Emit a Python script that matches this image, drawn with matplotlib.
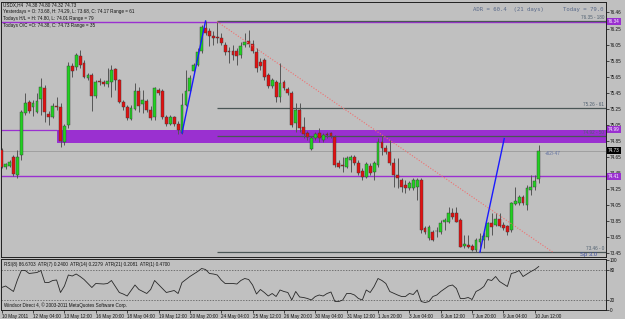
import numpy as np
import matplotlib.pyplot as plt
from matplotlib.transforms import blended_transform_factory

plt.rcParams['font.family'] = ['Liberation Sans', 'DejaVu Sans']

# USDX H4 candles, 10 May 2011 -> 10 Jun 2011
opens = [74.74, 74.53, 74.54, 74.65, 74.42, 74.67, 75.20, 75.34, 75.28, 75.21,
         75.38, 75.51, 75.19, 75.15, 75.29, 75.28, 74.84, 75.05, 75.79, 75.78,
         75.91, 75.83, 75.64, 75.68, 75.41, 75.60, 75.59, 75.56, 75.59, 75.75,
         75.61, 75.34, 75.28, 75.13, 75.25, 75.48, 75.31, 75.35, 75.24, 75.15,
         75.49, 75.48, 75.15, 75.06, 75.15, 75.06, 74.95, 75.30, 75.48, 75.73,
         75.80, 75.98, 76.26, 76.23, 76.16, 76.15, 76.14, 76.05, 75.98, 75.98,
         75.98, 75.92, 76.05, 76.10, 76.06, 75.96, 75.84, 75.86, 75.68, 75.54,
         75.59, 75.40, 75.59, 75.50, 75.45, 75.08, 75.24, 75.03, 74.95, 74.75,
         74.89, 74.95, 74.86, 74.94, 74.95, 74.90, 74.57, 74.55, 74.53, 74.61,
         74.65, 74.57, 74.47, 74.40, 74.54, 74.46, 74.55, 74.84, 74.76, 74.71,
         74.57, 74.42, 74.36, 74.30, 74.26, 74.26, 74.28, 74.36, 73.76, 73.64,
         73.71, 73.72, 73.71, 73.84, 73.84, 73.95, 73.95, 73.86, 73.54, 73.55,
         73.54, 73.49, 73.59, 73.61, 73.65, 73.82, 73.80, 73.87, 73.80, 73.79,
         73.74, 74.06, 74.07, 74.15, 74.05, 74.24, 74.28, 74.38]
highs = [74.76, 74.57, 74.61, 74.67, 74.74, 75.24, 75.45, 75.36, 75.36, 75.45,
         75.64, 75.55, 75.23, 75.33, 75.40, 75.33, 75.06, 75.84, 75.83, 75.95,
         75.99, 75.86, 75.70, 75.70, 75.61, 75.64, 75.61, 75.76, 75.80, 75.76,
         75.62, 75.36, 75.30, 75.30, 75.58, 75.53, 75.49, 75.38, 75.29, 75.53,
         75.51, 75.50, 75.18, 75.18, 75.16, 75.10, 75.45, 75.74, 75.68, 75.83,
         76.01, 76.30, 76.35, 76.26, 76.23, 76.35, 76.20, 76.09, 76.03, 76.05,
         76.01, 76.09, 76.20, 76.24, 76.11, 76.01, 75.89, 75.89, 75.70, 75.64,
         75.61, 75.83, 75.61, 75.53, 75.48, 75.33, 75.33, 75.15, 74.97, 74.91,
         74.96, 75.01, 74.95, 74.96, 74.96, 74.92, 74.61, 74.65, 74.66, 74.67,
         74.67, 74.61, 74.51, 74.59, 74.57, 74.60, 74.89, 74.92, 74.80, 74.86,
         74.64, 74.64, 74.39, 74.36, 74.35, 74.39, 74.39, 74.39, 73.79, 73.80,
         73.74, 73.78, 73.86, 73.89, 74.02, 74.01, 74.02, 73.89, 73.68, 73.68,
         73.56, 73.64, 73.70, 73.71, 73.84, 73.95, 73.95, 73.95, 73.84, 73.80,
         74.09, 74.28, 74.17, 74.17, 74.30, 74.42, 74.42, 74.80]
lows = [74.51, 74.50, 74.53, 74.41, 74.39, 74.61, 75.18, 75.20, 75.16, 75.20,
        75.18, 75.09, 75.05, 75.14, 75.24, 74.78, 74.80, 75.01, 75.65, 75.74,
        75.76, 75.64, 75.61, 75.23, 75.39, 75.55, 75.54, 75.53, 75.40, 75.49,
        75.33, 75.24, 75.11, 75.11, 75.24, 75.21, 75.20, 75.21, 75.11, 75.11,
        75.43, 75.13, 75.04, 75.05, 75.04, 74.94, 74.94, 75.29, 75.45, 75.70,
        75.79, 75.95, 76.17, 76.04, 76.05, 76.08, 76.05, 75.92, 75.83, 75.86,
        75.80, 75.89, 76.03, 76.03, 75.95, 75.71, 75.74, 75.61, 75.51, 75.51,
        75.34, 75.34, 75.49, 75.43, 75.03, 74.96, 74.96, 74.89, 74.86, 74.74,
        74.86, 74.84, 74.84, 74.89, 74.89, 74.53, 74.51, 74.46, 74.51, 74.46,
        74.55, 74.42, 74.36, 74.39, 74.42, 74.36, 74.53, 74.67, 74.69, 74.55,
        74.28, 74.26, 74.21, 74.20, 74.24, 74.24, 74.11, 73.70, 73.69, 73.61,
        73.60, 73.65, 73.69, 73.74, 73.82, 73.87, 73.84, 73.52, 73.51, 73.51,
        73.47, 73.46, 73.46, 73.51, 73.61, 73.68, 73.79, 73.78, 73.74, 73.68,
        73.71, 74.05, 74.05, 74.05, 73.99, 74.17, 74.24, 74.32]
closes = [74.53, 74.56, 74.59, 74.44, 74.65, 75.21, 75.33, 75.23, 75.33, 75.35,
          75.53, 75.21, 75.15, 75.29, 75.28, 74.85, 75.04, 75.79, 75.73, 75.92,
          75.80, 75.65, 75.68, 75.41, 75.59, 75.59, 75.56, 75.60, 75.74, 75.61,
          75.34, 75.28, 75.14, 75.26, 75.48, 75.29, 75.36, 75.24, 75.14, 75.51,
          75.45, 75.15, 75.06, 75.15, 75.06, 74.99, 75.30, 75.48, 75.64, 75.80,
          75.96, 76.28, 76.20, 76.16, 76.14, 76.14, 76.08, 75.96, 75.96, 75.92,
          75.91, 76.04, 76.09, 76.06, 75.98, 75.76, 75.79, 75.65, 75.54, 75.61,
          75.40, 75.58, 75.51, 75.45, 75.05, 75.24, 75.01, 74.94, 74.90, 74.89,
          74.94, 74.89, 74.92, 74.93, 74.91, 74.55, 74.53, 74.54, 74.64, 74.65,
          74.57, 74.45, 74.40, 74.56, 74.45, 74.57, 74.84, 74.76, 74.71, 74.57,
          74.42, 74.39, 74.28, 74.26, 74.32, 74.36, 74.36, 73.74, 73.71, 73.78,
          73.61, 73.73, 73.82, 73.86, 73.95, 73.90, 73.84, 73.52, 73.56, 73.52,
          73.49, 73.61, 73.62, 73.66, 73.82, 73.78, 73.87, 73.79, 73.76, 73.71,
          74.07, 74.10, 74.15, 74.07, 74.26, 74.28, 74.35, 74.73]

# RSI(8): bar index -> value
rsi_idx = [0, 1, 3, 4, 5, 6, 7, 9, 10, 11, 12, 13, 14, 15, 16, 17, 18, 19, 20, 21,
           23, 24, 26, 27, 28, 30, 31, 32, 34, 35, 37, 38, 39, 41, 42, 43, 44, 45, 46, 48,
           50, 51, 52, 53, 54, 55, 56, 57, 59, 60, 61, 62, 63, 64, 65, 66, 67, 68, 69, 70,
           71, 72, 73, 74, 75, 76, 77, 78, 79, 80, 81, 82, 83, 84, 85, 86, 87, 88, 89, 90,
           91, 92, 93, 94, 95, 96, 97, 98, 99, 101, 102, 103, 104, 105, 106, 107, 108, 109, 110, 111,
           112, 114, 115, 116, 117, 118, 119, 120, 121, 122, 123, 124, 125, 126, 127, 128, 129, 130, 131, 132,
           133, 134, 135, 136, 137]
rsi_val = [45, 48, 37, 60, 79, 79, 73, 75, 79, 55, 55, 59, 60, 35, 48, 70, 68, 72, 67, 61,
           45, 53, 52, 53, 59, 35, 32, 28, 50, 41, 33, 41, 59, 43, 35, 37, 39, 33, 55, 67,
           77, 83, 81, 73, 72, 70, 60, 53, 53, 52, 59, 63, 61, 50, 32, 41, 35, 28, 33, 27,
           40, 37, 35, 20, 37, 26, 25, 23, 20, 27, 30, 28, 33, 36, 17, 17, 20, 33, 33, 30,
           23, 20, 40, 35, 47, 63, 59, 53, 37, 30, 27, 27, 33, 31, 40, 17, 15, 17, 27, 30,
           37, 48, 50, 43, 23, 23, 25, 21, 37, 41, 47, 61, 59, 67, 57, 52, 47, 73, 75, 79,
           67, 72, 77, 81, 87]

price_ticks = [76.46, 76.25, 76.05, 75.85, 75.65, 75.45, 75.25, 75.05, 74.85,
               74.65, 74.45, 74.25, 74.05, 73.85, 73.65, 73.45]
date_pos = [0, 8, 16, 24, 32, 40, 48, 56, 64, 72, 80, 88, 96, 104, 112, 120, 128, 136]
date_labels = ['10 May 2011', '12 May 04:00', '13 May 12:00', '16 May 20:00',
               '18 May 04:00', '19 May 12:00', '20 May 20:00', '24 May 04:00',
               '25 May 12:00', '26 May 20:00', '30 May 04:00', '31 May 12:00',
               '1 Jun 20:00', '3 Jun 04:00', '6 Jun 12:00', '7 Jun 20:00',
               '9 Jun 04:00', '10 Jun 12:00']

# drawn objects
zone_lo, zone_hi, zone_start = 74.82, 74.99, 14
purple_levels = [76.34, 74.41]
pivot_start = 55
pivot_levels = [76.35, 75.26, 74.91, 73.46]
pivot_texts = ['76.35 - 180', '75.26 - 61', '74.92 - 50', '73.46 - 0']
bid = 74.73
blue1_x, blue1_y = [46, 52], [74.95, 76.35]
blue2_x, blue2_y = [122, 128.2], [73.46, 74.88]
trend_x, trend_y = [55, 140.6], [76.34, 73.46]

bg = '#c0c0c0'
purple = '#9a30d0'
dark = '#4a5656'
fs = 3.3

fig = plt.figure(figsize=(6.25, 3.19), dpi=100)
fig.patch.set_facecolor(bg)
ax = fig.add_axes([1 / 625, 1 - 257 / 319, 605 / 625, 255 / 319])
ax2 = fig.add_axes([1 / 625, 1 - 310 / 319, 605 / 625, 51 / 319])
for a in (ax, ax2):
    a.set_facecolor(bg)
    a.set_xlim(-0.18, 154.16)
    for s in a.spines.values():
        s.set_color('#202020')
        s.set_linewidth(0.7)
    a.yaxis.tick_right()
    a.tick_params(axis='y', labelsize=fs, length=2, width=0.5, pad=1, colors='#101010')

ax.set_ylim(73.40, 76.5875)
ax.set_xticks([])
ax.set_yticks(price_ticks)
ax.set_yticklabels(['%.2f' % p for p in price_ticks])

# levels and zone
ax.fill_between([zone_start, 160], zone_lo, zone_hi, color=purple, lw=0, zorder=1)
ax.hlines(zone_hi, -1, zone_start, color=purple, lw=0.9, zorder=1)
for p in purple_levels:
    ax.axhline(p, color=purple, lw=1.0, zorder=1)
ax.axhline(bid, color='#9a9a9a', lw=0.6, zorder=1)
for p in pivot_levels:
    ax.hlines(p, pivot_start, 160, color=dark, lw=0.9, zorder=2)

# candles
o = np.array(opens)
h = np.array(highs)
l = np.array(lows)
c = np.array(closes)
idx = np.arange(len(o))
col = np.where(c >= o, '#22d022', '#e01212')
ax.vlines(idx, l, h, color='#555555', lw=0.7, zorder=3)
ax.bar(idx, np.maximum(np.abs(c - o), 0.008), bottom=np.minimum(o, c), width=0.72,
       color=col, edgecolor='#383838', linewidth=0.3, zorder=4)

ax.plot(blue1_x, blue1_y, color='#1a1aff', lw=1.0, zorder=5)
ax.plot(blue2_x, blue2_y, color='#1a1aff', lw=1.0, zorder=5)
ax.plot(trend_x, trend_y, color='#f07070', lw=0.8, ls=(0, (1, 1.5)), zorder=5)

tr = blended_transform_factory(ax.transAxes, ax.transData)
for p, t in zip(pivot_levels, pivot_texts):
    ax.text(0.997, p + 0.01, t, transform=tr, ha='right', va='bottom',
            fontsize=fs, color='#506070', zorder=6)
ax.text(0.985, 73.43, 'Sp 3.0', transform=tr, ha='right', va='center',
        fontsize=4.2, color='#4050a0')
ax.text(138.6, 74.69, '+62/-47', ha='left', va='center', fontsize=fs, color='#6070a0')

# price boxes on the axis
for p, fc in [(76.34, purple), (74.99, purple), (bid, '#000000'), (74.41, purple)]:
    ax.text(1.003, p, '%.2f' % p, transform=tr, ha='left', va='center', fontsize=fs,
            color='white', clip_on=False, zorder=7,
            bbox=dict(boxstyle='square,pad=0.25', fc=fc, ec='none'))

# header texts
head = ['USDX,H4  74.38 74.80 74.32 74.73',
        'Yesterdays = O: 73.68, H: 74.29, L: 73.68, C: 74.17 Range = 61',
        'Todays H/L = H: 74.80, L: 74.01 Range = 79',
        'Todays O/C =O: 74.38, C: 74.73 Range = 35']
for k, t in enumerate(head):
    fig.text(3 / 625, 1 - (5 + 6.8 * k) / 319, t, fontsize=fs, color='#101010',
             va='center', ha='left')
fig.text(473 / 625, 1 - 10 / 319, 'ADR = 60.4  (21 days)', fontsize=4.1,
         family='DejaVu Sans Mono', color='#5a6a8a', va='center')
fig.text(563 / 625, 1 - 10 / 319, 'Today = 79.0', fontsize=4.1,
         family='DejaVu Sans Mono', color='#5a6a8a', va='center')

# RSI panel
ax2.set_ylim(0, 102)
ax2.set_yticks([100, 80, 20, 0])
ax2.axhline(80, color='#505050', lw=0.5, ls=(0, (2, 2)))
ax2.axhline(20, color='#505050', lw=0.5, ls=(0, (2, 2)))
ax2.plot(rsi_idx, rsi_val, color='#282828', lw=0.6)
ax2.text(0.005, 0.9, 'RSI(8) 86.6703  ATR(7) 0.2400  ATR(14) 0.2279  ATR(21) 0.2081  ATR(1) 0.4700',
         transform=ax2.transAxes, fontsize=fs, va='center', color='#101010')
ax2.text(0.005, 0.1, 'Windsor Direct 4, \u00a9 2003-2011 MetaQuotes Software Corp.',
         transform=ax2.transAxes, fontsize=fs, va='center', color='#101010')
ax2.set_xticks(date_pos)
ax2.set_xticklabels(date_labels, ha='left')
ax2.tick_params(axis='x', labelsize=fs, length=2, width=0.5, pad=1, colors='#101010')

fig.savefig('out.png', dpi=100, facecolor=bg)
